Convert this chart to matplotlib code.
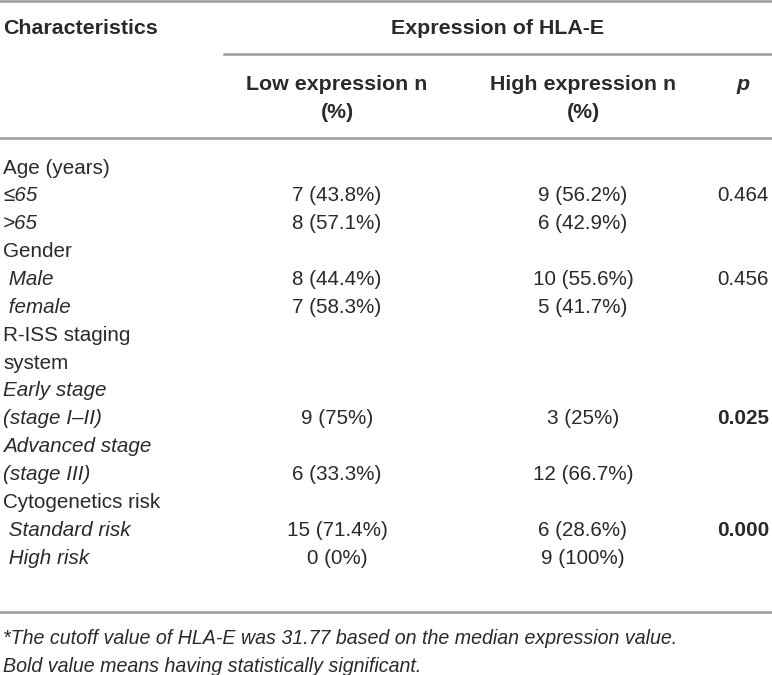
import matplotlib.pyplot as plt

plt.rcParams['font.family'] = ['Liberation Sans', 'DejaVu Sans']

# table content, one entry per printed line
labels = ["Age (years)", "≤65", ">65", "Gender", " Male", " female",
          "R-ISS staging", "system", "Early stage", "(stage I–II)",
          "Advanced stage", "(stage III)", "Cytogenetics risk",
          " Standard risk", " High risk"]
label_italic = [False, True, True, False, True, True,
                False, False, True, True, True, True, False, True, True]
low_expr = ["", "7 (43.8%)", "8 (57.1%)", "", "8 (44.4%)", "7 (58.3%)",
            "", "", "", "9 (75%)", "", "6 (33.3%)", "", "15 (71.4%)", "0 (0%)"]
high_expr = ["", "9 (56.2%)", "6 (42.9%)", "", "10 (55.6%)", "5 (41.7%)",
             "", "", "", "3 (25%)", "", "12 (66.7%)", "", "6 (28.6%)", "9 (100%)"]
p_values = ["", "0.464", "", "", "0.456", "", "", "", "", "0.025", "", "", "", "0.000", ""]
p_bold = ["", False, "", "", False, "", "", "", "", True, "", "", "", True, ""]

footnotes = ["*The cutoff value of HLA-E was 31.77 based on the median expression value.",
             "Bold value means having statistically significant."]

W, H = 772, 675
fig = plt.figure(figsize=(W / 100, H / 100), dpi=100)
ax = fig.add_axes([0, 0, 1, 1])
ax.set_xlim(0, W)
ax.set_ylim(H, 0)
ax.axis('off')

txt = '#2a2a2a'
line_c = '#9a9a9a'
fs = 14.9
fs_b = 15.4
fs_note = 14.1

x_lab, x_low, x_high, x_p = 3, 337, 583, 743

# rules
ax.plot([0, W], [1, 1], color=line_c, lw=1.8)
ax.plot([224, W], [54, 54], color=line_c, lw=1.8)
ax.plot([0, W], [138, 138], color=line_c, lw=1.8)
ax.plot([0, W], [612, 612], color=line_c, lw=1.8)

# header
ax.text(x_lab, 29, "Characteristics", fontsize=fs_b, fontweight='bold', color=txt, va='center')
ax.text(498, 29, "Expression of HLA-E", fontsize=fs_b, fontweight='bold', color=txt,
        va='center', ha='center')
for xc, head in [(x_low, "Low expression n"), (x_high, "High expression n")]:
    ax.text(xc, 84, head, fontsize=fs_b, fontweight='bold', color=txt, va='center', ha='center')
    ax.text(xc, 113, "(%)", fontsize=fs_b, fontweight='bold', color=txt, va='center', ha='center')
ax.text(x_p, 84, "p", fontsize=fs_b, fontweight='bold', fontstyle='italic', color=txt,
        va='center', ha='center')

# body
y0, dy = 168, 27.86
for i, lab in enumerate(labels):
    y = y0 + i * dy
    ax.text(x_lab, y, lab, fontsize=fs, color=txt, va='center',
            fontstyle='italic' if label_italic[i] else 'normal')
    ax.text(x_low, y, low_expr[i], fontsize=fs, color=txt, va='center', ha='center')
    ax.text(x_high, y, high_expr[i], fontsize=fs, color=txt, va='center', ha='center')
    if p_values[i]:
        ax.text(x_p, y, p_values[i], fontsize=fs, color=txt, va='center', ha='center',
                fontweight='bold' if p_bold[i] else 'normal')

# footnotes
for j, note in enumerate(footnotes):
    ax.text(x_lab, 639 + j * 27, note, fontsize=fs_note, fontstyle='italic', color=txt,
            va='center')

fig.savefig('out.png', dpi=100)
